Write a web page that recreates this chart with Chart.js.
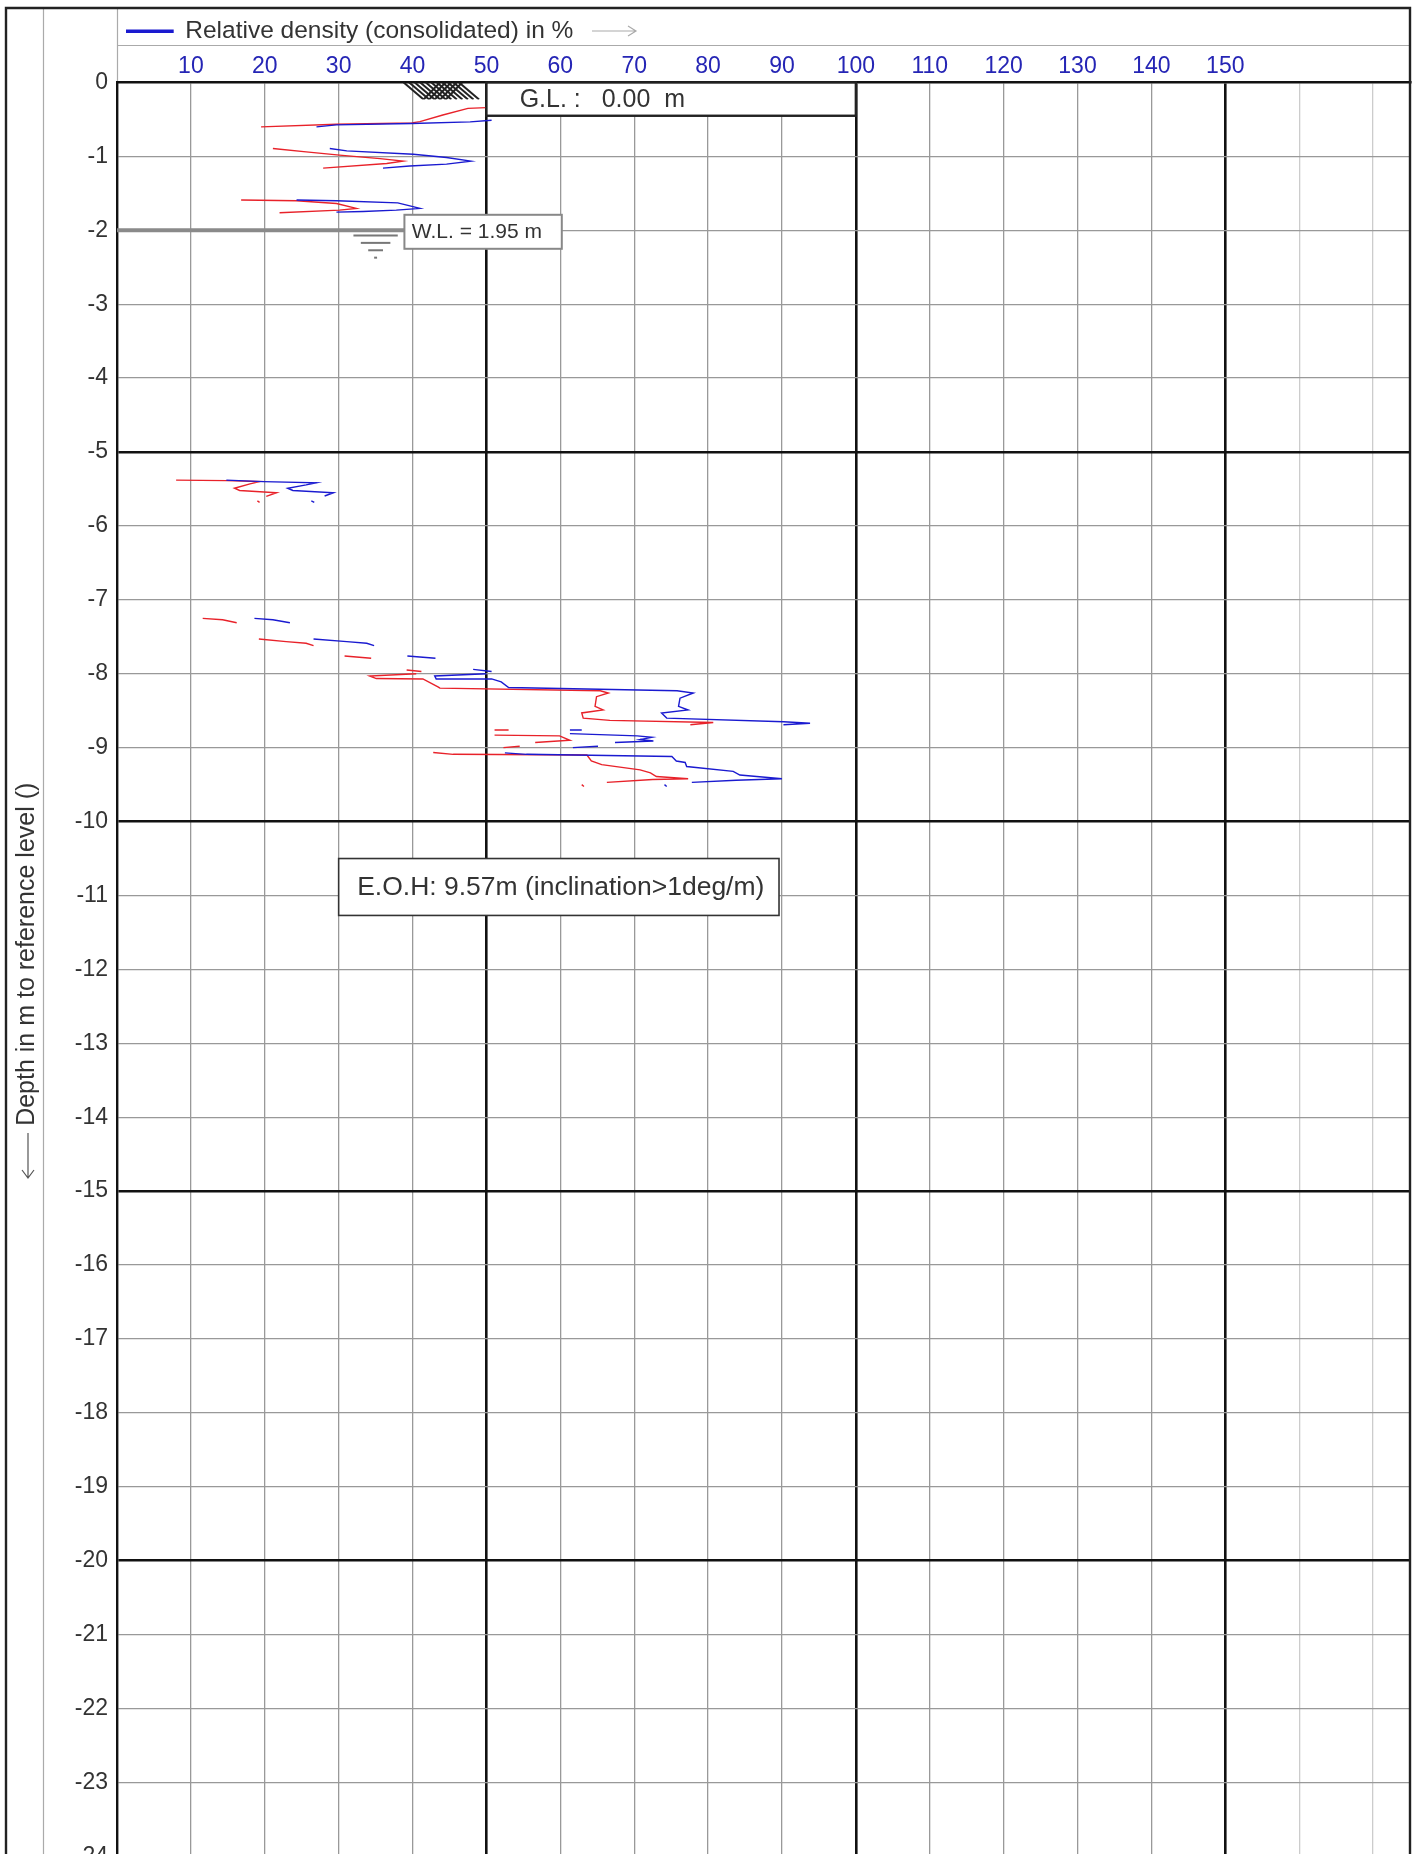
<!DOCTYPE html>
<html><head><meta charset="utf-8">
<script src="https://cdn.jsdelivr.net/npm/chart.js@4"></script>
<style>html,body{margin:0;padding:0;background:#fff;overflow:hidden;height:1854px;width:1415px}canvas{display:block}</style>
</head><body><canvas id="c" width="1415" height="1953"></canvas>
<script>
// --- data (null = gap in the curve) ---
const blueX = [50.7,47.8,39.9,29.7,27.0,null,
 28.8,31.1,40.1,44.6,47.9,44.6,39.6,36.0,null,
 24.3,29.7,38.0,41.0,37.8,33.3,29.7,null,
 14.8,19.8,27.0,25.6,23.1,23.8,29.3,28.1,null,26.3,26.7,null,
 18.6,21.1,23.4,null,26.6,31.1,33.8,34.8,null,39.3,43.1,null,48.2,50.7,null,
 50.0,43.0,43.2,50.7,52.0,53.0,75.8,78.0,76.2,76.0,77.3,73.7,74.4,90.2,93.8,90.2,null,
 61.3,62.9,null,61.3,70.4,72.4,70.8,72.6,67.4,null,61.7,65.1,null,
 52.5,55.4,75.1,75.7,76.9,77.1,83.4,84.3,90.0,83.8,77.8,null,74.1,74.4];
const blueY = [-0.51,-0.533,-0.555,-0.573,-0.60,null,
 -0.893,-0.925,-0.97,-1.014,-1.064,-1.105,-1.13,-1.159,null,
 -1.59,-1.60,-1.628,-1.704,-1.727,-1.745,-1.754,null,
 -5.38,-5.40,-5.415,-5.445,-5.49,-5.52,-5.55,-5.595,null,-5.66,-5.68,null,
 -7.25,-7.27,-7.31,null,-7.53,-7.565,-7.587,-7.62,null,-7.76,-7.79,null,-7.94,-7.97,null,
 -8.00,-8.03,-8.07,-8.07,-8.11,-8.185,-8.23,-8.26,-8.33,-8.44,-8.49,-8.53,-8.60,-8.65,-8.67,-8.69,null,
 -8.76,-8.76,null,-8.81,-8.84,-8.86,-8.89,-8.91,-8.93,null,-9.0,-8.98,null,
 -9.07,-9.09,-9.12,-9.18,-9.20,-9.255,-9.32,-9.37,-9.42,-9.44,-9.47,null,-9.50,-9.525];
const redX = [50.0,47.5,44.1,41.0,39.9,29.7,19.5,null,
 21.1,25.6,30.1,35.6,38.7,36.5,27.9,null,
 16.8,24.3,29.7,32.4,30.1,22.0,null,
 8.0,14.8,19.3,18.0,15.9,16.6,21.6,20.2,null,19.0,19.3,null,
 11.6,14.3,16.2,null,19.2,22.9,25.6,26.6,null,30.8,34.4,null,39.2,41.2,null,
 40.5,34.2,35.1,41.4,43.5,43.7,65.4,66.5,64.9,64.7,65.8,62.9,63.1,66.7,80.7,77.6,null,
 51.1,53.0,null,51.1,59.9,61.3,56.6,null,52.3,54.5,null,
 42.8,45.5,63.6,64.2,65.6,70.8,72.2,73.0,77.3,72.5,66.3,null,62.9,63.2];
const redY = [-0.34,-0.35,-0.44,-0.53,-0.546,-0.564,-0.60,null,
 -0.893,-0.938,-0.983,-1.03,-1.064,-1.095,-1.159,null,
 -1.59,-1.60,-1.637,-1.704,-1.727,-1.763,null,
 -5.38,-5.387,-5.40,-5.43,-5.49,-5.52,-5.55,-5.60,null,-5.66,-5.68,null,
 -7.25,-7.27,-7.31,null,-7.53,-7.565,-7.587,-7.62,null,-7.76,-7.79,null,-7.95,-7.97,null,
 -8.00,-8.03,-8.065,-8.07,-8.18,-8.195,-8.23,-8.26,-8.31,-8.44,-8.49,-8.53,-8.60,-8.63,-8.66,-8.69,null,
 -8.76,-8.76,null,-8.83,-8.84,-8.90,-8.93,null,-9.0,-8.98,null,
 -9.065,-9.09,-9.10,-9.18,-9.23,-9.30,-9.34,-9.39,-9.42,-9.43,-9.47,null,-9.50,-9.525];
const xLabelled = [10,20,30,40,50,60,70,80,90,100,110,120,130,140,150];
const legendText = 'Relative density (consolidated) in %';
const secondCurveName = 'Relative density (second curve)';
const axisTitle = 'Depth in m to reference level ()';
const groundText = 'G.L. :   0.00  m';
const waterText = 'W.L. = 1.95 m';
const endText = 'E.O.H: 9.57m (inclination>1deg/m)';
const waterLevelDrawnAt = -2;

const toPoints = (xs, ys) => xs.map((x, i) => ({x: x, y: ys[i]}));
const FONT = '"Liberation Sans", Arial, sans-serif';

const furniture = {
  id: 'furniture',
  afterLayout(chart) {
    const l = chart.legend;
    const w = l.width, h = l.height;
    l.left = 126; l.top = 19; l.right = 126 + w; l.bottom = 19 + h;
  },
  beforeDraw(chart) {
    const c = chart.ctx, a = chart.chartArea;
    c.save();
    c.strokeStyle = '#aaa'; c.lineWidth = 1.2;
    c.beginPath();
    c.moveTo(43.5, 8); c.lineTo(43.5, 1953);
    c.moveTo(117.5, 8); c.lineTo(117.5, a.top);
    c.moveTo(117.5, 45.5); c.lineTo(1410, 45.5);
    c.stroke();
    c.restore();
  },
  afterDraw(chart) {
    const c = chart.ctx, X = chart.scales.x, Y = chart.scales.y;
    const px = v => X.getPixelForValue(v), py = v => Y.getPixelForValue(v);
    c.save();
    // outer frame
    c.strokeStyle = '#222'; c.lineWidth = 2.4;
    c.beginPath();
    c.moveTo(6, 1953); c.lineTo(6, 8); c.lineTo(1410, 8); c.lineTo(1410, 1953);
    c.stroke();
    // legend arrow
    c.strokeStyle = '#aaa'; c.lineWidth = 1.2;
    c.beginPath();
    c.moveTo(592, 31); c.lineTo(636, 31); c.moveTo(628, 26); c.lineTo(636, 31); c.lineTo(628, 36);
    c.stroke();
    // axis title arrow
    c.strokeStyle = '#555'; c.lineWidth = 1.2;
    c.beginPath();
    c.moveTo(28, 1133); c.lineTo(28, 1178); c.moveTo(22, 1170); c.lineTo(28, 1178); c.lineTo(34, 1170);
    c.stroke();
    // water level
    c.strokeStyle = '#8a8a8a'; c.lineWidth = 4;
    c.beginPath(); c.moveTo(px(0), py(waterLevelDrawnAt)); c.lineTo(px(38.9), py(waterLevelDrawnAt)); c.stroke();
    c.strokeStyle = '#777'; c.lineWidth = 2;
    [[32.0,38.0,-2.07],[33.0,37.0,-2.17],[34.0,36.0,-2.27],[34.8,35.2,-2.37]].forEach(s => {
      c.beginPath(); c.moveTo(px(s[0]), py(s[2])); c.lineTo(px(s[1]), py(s[2])); c.stroke();
    });
    // ground hatch
    c.strokeStyle = '#222'; c.lineWidth = 2;
    c.save(); c.beginPath(); c.rect(px(38.5), py(0), px(50)-px(38.5), py(-0.23)-py(0)); c.clip();
    for (let v = 38.8; v < 47; v += 0.75) {
      c.beginPath(); c.moveTo(px(v), py(0)); c.lineTo(px(v + 2.7), py(-0.23)); c.stroke();
    }
    for (let v = 41.5; v < 44.6; v += 0.75) {
      c.beginPath(); c.moveTo(px(v), py(-0.23)); c.lineTo(px(v + 2.2), py(0)); c.stroke();
    }
    c.restore();
    // boxes
    const box = (x0, y0, x1, y1, col, w) => {
      c.fillStyle = '#fff'; c.fillRect(px(x0), py(y0), px(x1)-px(x0), py(y1)-py(y0));
      c.strokeStyle = col; c.lineWidth = w; c.strokeRect(px(x0), py(y0), px(x1)-px(x0), py(y1)-py(y0));
    };
    box(50, 0, 100, -0.45, '#222', 2.4);
    box(38.9, -1.79, 60.2, -2.25, '#888', 2);
    box(30, -10.5, 89.6, -11.27, '#333', 1.6);
    c.fillStyle = '#333'; c.textBaseline = 'middle'; c.textAlign = 'left';
    c.font = '25px ' + FONT;
    c.fillText(groundText, px(54.5), py(-0.24));
    c.font = '21px ' + FONT;
    c.fillText(waterText, px(39.9), py(-2.02));
    c.font = '26.5px ' + FONT;
    c.fillText(endText, px(32.5), py(-10.9));
    c.restore();
  }
};

new Chart(document.getElementById('c'), {
  type: 'line',
  data: { datasets: [
    { label: legendText, data: toPoints(blueX, blueY), borderColor: '#1a1ad0', backgroundColor: '#1a1ad0',
      borderWidth: 1.4, pointRadius: 0, spanGaps: false, tension: 0, clip: false },
    { label: secondCurveName, data: toPoints(redX, redY), borderColor: '#e8222a', backgroundColor: '#e8222a',
      borderWidth: 1.4, pointRadius: 0, spanGaps: false, tension: 0, clip: false }
  ]},
  plugins: [furniture],
  options: {
    responsive: false, animation: false, devicePixelRatio: 1,
    layout: { autoPadding: false, padding: { left: 0, right: 5, top: 0, bottom: 0 } },
    plugins: {
      tooltip: { enabled: false },
      legend: {
        position: 'chartArea', align: 'start',
        labels: { filter: it => it.datasetIndex === 0, boxWidth: 47, boxHeight: 2, padding: 0,
                  color: '#333', font: { family: FONT, size: 24.5 } }
      }
    },
    scales: {
      x: {
        type: 'linear', position: 'top', min: 0, max: 175,
        afterFit(s) { s.height = 82.5; },
        border: { display: true, color: '#111', width: 2.4 },
        grid: {
          drawTicks: false,
          color: t => t.tick.value === 0 ? 'rgba(0,0,0,0)' : (t.tick.value % 50 === 0 ? '#111' : (t.tick.value > 150 ? '#ccc' : '#999')),
          lineWidth: t => t.tick.value % 50 === 0 ? 2.6 : 1.3
        },
        ticks: {
          stepSize: 10, includeBounds: false, autoSkip: false, maxRotation: 0, padding: 2,
          color: '#2525b5', font: { family: FONT, size: 23 },
          callback: v => xLabelled.includes(v) ? String(v) : ''
        }
      },
      y: {
        type: 'linear', min: -25, max: 0,
        afterFit(s) { s.width = 117; },
        border: { display: true, color: '#111', width: 2.4 },
        title: { display: true, text: ' '.repeat(15) + axisTitle, color: '#333', padding: { top: 12, bottom: 0 },
                 font: { family: FONT, size: 25 } },
        grid: {
          drawTicks: false,
          color: t => t.tick.value === 0 ? 'rgba(0,0,0,0)' : (t.tick.value % 5 === 0 ? '#111' : '#999'),
          lineWidth: t => t.tick.value % 5 === 0 ? 2.6 : 1.3
        },
        ticks: { stepSize: 1, autoSkip: false, padding: 9, color: '#333', font: { family: FONT, size: 23 },
                 callback: v => String(v) }
      }
    }
  }
});
</script></body></html>
